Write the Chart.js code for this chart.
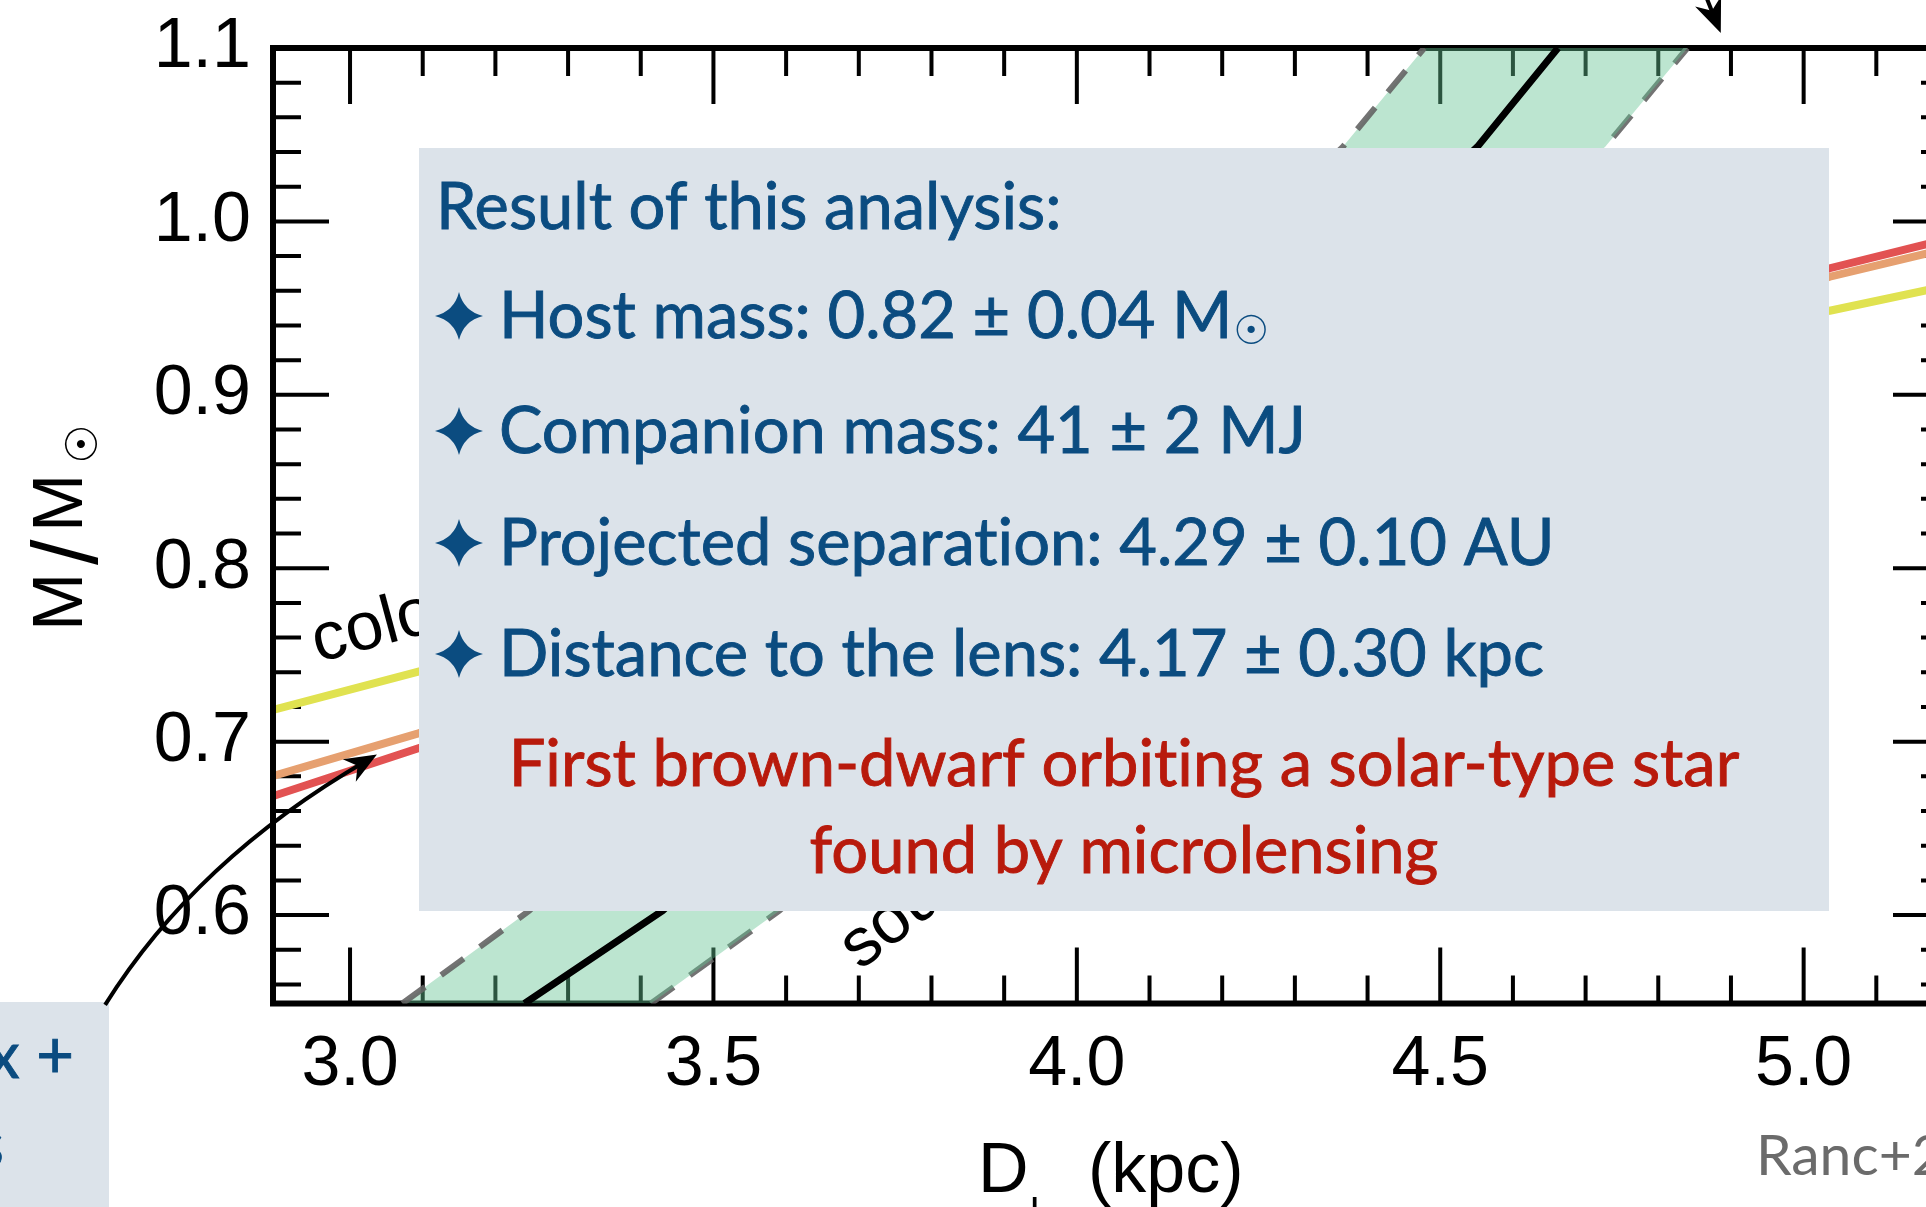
<!DOCTYPE html>
<html>
<head>
<meta charset="utf-8">
<script src="https://cdn.jsdelivr.net/npm/chart.js@4.4.1/dist/chart.umd.min.js"></script>
<style>
  html, body { margin: 0; padding: 0; background: #fff; overflow: hidden; }
  #wrap { position: relative; width: 1990px; height: 1207px; }
</style>
</head>
<body>
<div id="wrap"><canvas id="massChart"></canvas></div>
<script>
// Lens mass vs lens distance
const xTickLabels = [3.0, 3.5, 4.0, 4.5, 5.0];
const yTickLabels = [0.6, 0.7, 0.8, 0.9, 1.0, 1.1];

// parallax mass-distance relation (best value and 1-sigma edges)
const parallaxMid = [
  { x: 3.240, y: 0.549 }, { x: 3.430, y: 0.6025 },
  { x: 4.551, y: 1.043 }, { x: 4.662, y: 1.1 },
];
const parallaxLow = [
  { x: 3.072, y: 0.549 }, { x: 3.2465, y: 0.6025 },
  { x: 4.366, y: 1.043 }, { x: 4.478, y: 1.1 },
];
const parallaxHigh = [
  { x: 3.414, y: 0.549 }, { x: 3.5906, y: 0.6025 },
  { x: 4.727, y: 1.043 }, { x: 4.840, y: 1.1 },
];

// colour constraints
const colorRed = [
  { x: 2.894, y: 0.6686 }, { x: 3.094, y: 0.6962 },
  { x: 5.036, y: 0.973 }, { x: 5.2, y: 0.990 },
];
const colorOrange = [
  { x: 2.894, y: 0.6802 }, { x: 3.094, y: 0.7048 },
  { x: 5.036, y: 0.9681 }, { x: 5.2, y: 0.9846 },
];
const colorYellow = [
  { x: 2.894, y: 0.7183 }, { x: 3.094, y: 0.7404 },
  { x: 5.036, y: 0.9485 }, { x: 5.2, y: 0.963 },
];

const BLUE = "#0b4c80";
const RED = "#b81a0c";
const PANEL = "#dce3ea";
const HELV = '"Liberation Sans", Arial, Helvetica, sans-serif';
const SANS = 'Lato, "Open Sans", sans-serif';
const ZWNJ = "\u200c"; // keeps "ti" from turning into a ligature

function arrowHead(ctx, x, y, ang, len, wid) {
  ctx.save();
  ctx.translate(x, y);
  ctx.rotate(ang);
  ctx.beginPath();
  ctx.moveTo(0, 0);
  ctx.lineTo(-len, -wid / 2);
  ctx.lineTo(-len * 0.7, 0);
  ctx.lineTo(-len, wid / 2);
  ctx.closePath();
  ctx.fill();
  ctx.restore();
}

// four-pointed bullet star
function starBullet(ctx, cx, cy, r) {
  const c = r * 0.2;
  ctx.beginPath();
  ctx.moveTo(cx, cy - r);
  ctx.quadraticCurveTo(cx + c, cy - c, cx + r, cy);
  ctx.quadraticCurveTo(cx + c, cy + c, cx, cy + r);
  ctx.quadraticCurveTo(cx - c, cy + c, cx - r, cy);
  ctx.quadraticCurveTo(cx - c, cy - c, cx, cy - r);
  ctx.closePath();
  ctx.fill();
}

// slightly heavier panel text
function panelText(ctx, txt, x, y) {
  ctx.fillText(txt, x, y);
  ctx.strokeText(txt, x, y);
}

// inward ticks on all four sides + frame, drawn under the datasets
function drawFrame(chart) {
  const { ctx, chartArea: a, scales } = chart;
  const sx = scales.x, sy = scales.y;
  ctx.save();
  ctx.strokeStyle = "#000";
  ctx.lineWidth = 4;
  ctx.beginPath();
  for (let i = 29; i <= 52; i++) {
    const px = sx.getPixelForValue(i / 10);
    if (px < a.left + 6 || px > a.right - 6) continue;
    const len = i % 5 === 0 ? 56 : 28;
    ctx.moveTo(px, a.bottom);
    ctx.lineTo(px, a.bottom - len);
    ctx.moveTo(px, a.top);
    ctx.lineTo(px, a.top + len);
  }
  for (let i = 56; i <= 110; i += 2) {
    const py = sy.getPixelForValue(i / 100);
    if (py < a.top + 6 || py > a.bottom - 6) continue;
    const len = i % 10 === 0 ? 56 : 28;
    ctx.moveTo(a.left, py);
    ctx.lineTo(a.left + len, py);
    ctx.moveTo(a.right, py);
    ctx.lineTo(a.right - len, py);
  }
  ctx.stroke();
  ctx.lineWidth = 6;
  ctx.strokeRect(a.left, a.top, a.right - a.left, a.bottom - a.top);
  ctx.restore();
}

function drawNotes(chart) {
  const { ctx, scales } = chart;
  const sx = scales.x, sy = scales.y;
  const px = (v) => sx.getPixelForValue(v);
  const py = (v) => sy.getPixelForValue(v);
  ctx.save();

  // curve labels (partly under the result panel)
  ctx.fillStyle = "#000";
  ctx.font = `68px ${HELV}`;
  ctx.textBaseline = "alphabetic";
  ctx.save();
  ctx.translate(px(2.956), py(0.7457));
  ctx.rotate((-15 * Math.PI) / 180);
  ctx.fillText("color constraint", 0, 0);
  ctx.restore();
  ctx.save();
  ctx.translate(px(3.702), py(0.5677));
  ctx.rotate((-38 * Math.PI) / 180);
  ctx.fillText("source", 0, 0);
  ctx.restore();

  // result panel
  ctx.fillStyle = PANEL;
  ctx.fillRect(419, 148, 1829 - 419, 911 - 148);
  ctx.fillRect(0, 1002, 109, 205);

  ctx.fillStyle = BLUE;
  ctx.strokeStyle = BLUE;
  ctx.lineWidth = 0.9;
  ctx.font = `65px ${SANS}`;
  ctx.textAlign = "left";
  panelText(ctx, "Result of this analysis:", 436, 229);
  const rows = [
    ["Host mass: 0.82 \u00b1 0.04 M", 338, true],
    ["Companion mass: 41 \u00b1 2 MJ", 453, false],
    ["Projected separat" + ZWNJ + "ion: 4.29 \u00b1 0.10 AU", 565, false],
    ["Distance to the lens: 4.17 \u00b1 0.30 kpc", 676, false],
  ];
  for (const [txt, base, sun] of rows) {
    ctx.font = `65px ${SANS}`;
    ctx.textAlign = "left";
    panelText(ctx, txt, 499, base);
    if (sun) {
      const w = ctx.measureText(txt).width;
      ctx.font = '40px "DejaVu Sans"';
      ctx.fillText("\u2609", 499 + w + 1, base + 6);
    }
    starBullet(ctx, 459, base - 22, 24);
  }
  ctx.fillStyle = RED;
  ctx.strokeStyle = RED;
  ctx.font = `65px ${SANS}`;
  ctx.textAlign = "center";
  panelText(ctx, "First brown-dwarf orbit" + ZWNJ + "ing a solar-type star", 1124, 786);
  panelText(ctx, "found by microlensing", 1124, 873);

  // side panel (cut at the page edge)
  ctx.fillStyle = BLUE;
  ctx.strokeStyle = BLUE;
  ctx.textAlign = "right";
  panelText(ctx, "parallax +", 74, 1078);
  panelText(ctx, "constraints", 4, 1167);

  // reference
  ctx.fillStyle = "#6b6b6b";
  ctx.textAlign = "left";
  ctx.font = `57px ${SANS}`;
  ctx.fillText("Ranc+2020", 1756, 1175);

  // arrows
  ctx.strokeStyle = "#000";
  ctx.fillStyle = "#000";
  ctx.lineWidth = 4;
  const a0 = [px(2.663), py(0.5482)];
  const a1 = [px(2.788), py(0.632)];
  const a2 = [px(3.037), py(0.6926)];
  ctx.beginPath();
  ctx.moveTo(a0[0], a0[1]);
  ctx.quadraticCurveTo(a1[0], a1[1], a2[0] - 10, a2[1] + 6);
  ctx.stroke();
  arrowHead(ctx, a2[0], a2[1], Math.atan2(a2[1] - a1[1], a2[0] - a1[0]), 32, 26);

  const t0 = [px(4.8565), py(1.1394)];
  const t1 = [px(4.886), py(1.1087)];
  ctx.beginPath();
  ctx.moveTo(t0[0], t0[1]);
  ctx.lineTo(t1[0] - 5, t1[1] - 12);
  ctx.stroke();
  arrowHead(ctx, t1[0], t1[1], Math.atan2(t1[1] - t0[1], t1[0] - t0[0]), 34, 28);

  // axis titles
  ctx.fillStyle = "#000";
  ctx.textAlign = "left";
  ctx.textBaseline = "alphabetic";
  ctx.font = `70px ${HELV}`;
  ctx.fillText("D", 978, 1192);
  ctx.font = `42px ${HELV}`;
  ctx.fillText("l", 1030, 1228);
  ctx.font = `70px ${HELV}`;
  ctx.fillText("(kpc)", 1088, 1192);

  ctx.save();
  ctx.translate(82, 627);
  ctx.rotate(-Math.PI / 2);
  ctx.font = `70px ${HELV}`;
  ctx.fillText("M", -4, 0);
  ctx.fillText("M", 95, 0);
  ctx.font = `92px ${HELV}`;
  ctx.fillText("/", 62, 15);
  ctx.font = '44px "DejaVu Sans"';
  ctx.textAlign = "center";
  ctx.textBaseline = "middle";
  ctx.fillText("\u2609", 183, 4);
  ctx.restore();

  ctx.restore();
}

const overlay = {
  id: "overlay",
  beforeDatasetsDraw(chart) {
    drawFrame(chart);
  },
  afterDraw(chart) {
    drawNotes(chart);
  },
};

const edgeStyle = {
  borderColor: "rgba(100,100,100,0.9)",
  borderWidth: 6,
  borderDash: [28, 20],
  pointRadius: 0,
};

const massChartConfig = {
  type: "line",
  data: {
    datasets: [
      {
        data: parallaxMid,
        borderColor: "#000",
        borderWidth: 7,
        pointRadius: 0,
        fill: false,
        order: 1,
      },
      {
        ...edgeStyle,
        data: parallaxLow,
        backgroundColor: "rgba(100,195,145,0.43)",
        fill: "+1",
        order: 2,
      },
      { ...edgeStyle, data: parallaxHigh, fill: false, order: 3 },
      {
        data: colorRed,
        borderColor: "rgb(226,82,82)",
        borderWidth: 8,
        pointRadius: 0,
        fill: false,
        clip: -3,
        order: 4,
      },
      {
        data: colorOrange,
        borderColor: "rgb(230,160,112)",
        borderWidth: 8,
        pointRadius: 0,
        fill: false,
        clip: -3,
        order: 5,
      },
      {
        data: colorYellow,
        borderColor: "rgb(224,226,80)",
        borderWidth: 8,
        pointRadius: 0,
        fill: false,
        clip: -3,
        order: 6,
      },
    ],
  },
  options: {
    indexAxis: "y",
    responsive: true,
    maintainAspectRatio: false,
    animation: false,
    events: [],
    layout: {
      padding: { top: 48, right: 41, left: 0, bottom: 0 },
    },
    scales: {
      x: {
        type: "linear",
        position: "bottom",
        min: 2.894,
        max: 5.2,
        grid: { display: false, drawTicks: false },
        border: { display: false },
        afterBuildTicks: (s) => {
          s.ticks = xTickLabels.map((v) => ({ value: v }));
        },
        afterFit: (s) => {
          s.height = 203.5;
          s.paddingLeft = 0;
          s.paddingRight = 0;
        },
        ticks: {
          color: "#000",
          font: { family: HELV, size: 70 },
          padding: 20,
          maxRotation: 0,
          autoSkip: false,
          callback: (v) => Number(v).toFixed(1),
        },
      },
      y: {
        type: "linear",
        position: "left",
        min: 0.549,
        max: 1.1,
        grid: { display: false, drawTicks: false },
        border: { display: false },
        afterBuildTicks: (s) => {
          s.ticks = yTickLabels.map((v) => ({ value: v }));
        },
        afterFit: (s) => {
          s.width = 273;
          s.paddingTop = 0;
          s.paddingBottom = 0;
        },
        ticks: {
          color: "#000",
          font: { family: HELV, size: 70 },
          padding: 22,
          autoSkip: false,
          callback: (v) => Number(v).toFixed(1),
        },
      },
    },
    plugins: {
      legend: { display: false },
      tooltip: { enabled: false },
    },
  },
  plugins: [overlay],
};

window.massChart = new Chart(document.getElementById("massChart"), massChartConfig);
</script>
</body>
</html>
